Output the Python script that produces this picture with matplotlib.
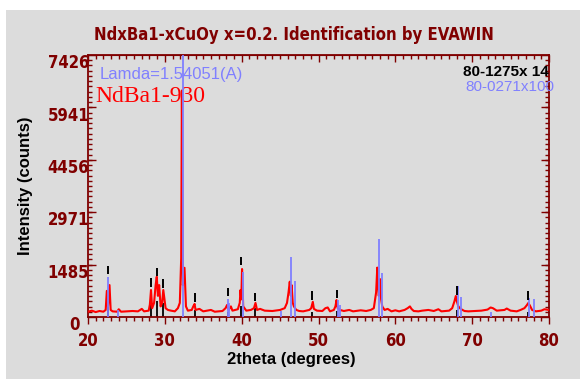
import numpy as np
import matplotlib
matplotlib.use('Agg')
import matplotlib.pyplot as plt
from matplotlib import font_manager
from matplotlib.ticker import MultipleLocator, FixedLocator
from matplotlib.transforms import ScaledTranslation
from matplotlib.patches import Rectangle

# measured pattern (red)
tt = [20.0, 20.5, 21.0, 21.5, 22.0, 22.3, 22.45, 22.6, 22.8, 22.95, 23.2, 23.8, 24.0, 24.3, 25.0, 25.8,
      26.5, 27.0, 27.3, 27.9, 28.05, 28.2, 28.35, 28.6, 28.8, 28.95, 29.1, 29.26, 29.45, 29.65, 29.8,
      29.95, 30.1, 30.4, 30.8, 31.3, 31.7, 31.95, 32.13, 32.22, 32.35, 32.56, 32.75, 33.0, 33.5, 33.7,
      33.87, 34.0, 34.5, 35.0, 36.0, 36.5, 37.5, 37.9, 38.1, 38.3, 38.6, 38.8, 39.5, 39.75, 39.85,
      39.95, 40.05, 40.2, 40.6, 41.2, 41.6, 41.8, 42.0, 42.4, 43.0, 44.0, 45.0, 45.6, 45.9, 46.1,
      46.26, 46.4, 46.5, 46.65, 46.8, 47.1, 47.5, 48.0, 48.8, 49.05, 49.26, 49.4, 49.8, 50.5, 50.9,
      51.2, 51.5, 52.0, 52.2, 52.35, 52.5, 52.8, 53.3, 54.0, 54.5, 55.5, 56.2, 56.8, 57.2, 57.5,
      57.65, 57.75, 57.85, 58.0, 58.15, 58.3, 58.6, 59.0, 59.5, 60.0, 60.5, 61.2, 61.6, 61.9, 62.1,
      62.4, 63.0, 63.5, 64.3, 65.0, 65.6, 66.0, 67.0, 67.4, 67.7, 67.87, 68.0, 68.2, 68.5, 69.0,
      69.5, 70.5, 71.2, 72.0, 72.4, 72.7, 73.2, 74.2, 74.5, 75.0, 75.8, 76.3, 76.8, 77.1, 77.3,
      77.5, 77.8, 78.3, 79.0, 79.4, 80.0]
counts = [150, 180, 140, 170, 150, 200, 740, 300, 905, 200, 160, 150, 220, 150, 160, 170,
          160, 230, 160, 180, 350, 765, 250, 400, 900, 1140, 600, 905, 300, 400, 765,
          500, 250, 200, 180, 160, 250, 400, 1670, 6420, 900, 1395, 300, 180, 200, 300,
          370, 200, 230, 160, 200, 150, 170, 250, 340, 200, 300, 180, 220, 400, 765,
          500, 1360, 300, 180, 200, 250, 400, 200, 230, 180, 170, 200, 250, 400, 700,
          1000, 600, 905, 400, 300, 200, 170, 160, 200, 250, 430, 230, 180, 170, 250,
          270, 160, 200, 300, 480, 250, 200, 170, 200, 160, 190, 170, 200, 250, 700,
          1400, 900, 600, 1075, 500, 300, 200, 230, 160, 190, 160, 200, 250, 300, 230,
          170, 160, 180, 200, 170, 220, 160, 180, 250, 450, 595, 450, 300, 230, 170,
          160, 170, 180, 210, 270, 250, 180, 200, 240, 180, 160, 200, 250, 330, 395,
          330, 200, 160, 180, 220, 200]

# 80-0271 x100 (blue sticks)
blue_pos = [22.6, 23.9, 32.3, 38.2, 38.4, 40.13, 45.1, 46.48, 47.0, 52.55, 52.85,
            57.9, 58.2, 68.1, 68.5, 72.5, 77.4, 78.0]
blue_int = [1140, 200, 7600, 510, 400, 1280, 180, 1710, 1020, 480, 350,
            2210, 1245, 890, 565, 150, 530, 510]

# 80-1275 x14 (black sticks and markers)
black_pos = [22.6, 28.2, 28.95, 29.8, 33.87, 38.2, 39.9, 41.8, 49.2, 52.35, 68.0, 77.3]
black_int = [300, 480, 450, 400, 200, 150, 300, 250, 150, 180, 200, 150]
black_top = [1452, 1095, 1395, 1067, 670, 830, 1707, 690, 736, 765, 877, 736]

yticks = [0, 1485, 2971, 4456, 5941, 7426]

dred = '#800000'
blue = '#8080ff'

# condensed bold face if one is installed
cond = font_manager.FontProperties(family='DejaVu Sans', stretch='condensed', weight='bold')
cond_path = font_manager.findfont(cond, fallback_to_default=True)
if 'Condensed' in cond_path:
    nfont = font_manager.FontProperties(fname=cond_path)
    nscale = 1.0
else:
    nfont = font_manager.FontProperties(family='Liberation Sans', weight='bold')
    nscale = 0.86

fig = plt.figure(figsize=(5.8, 3.79), dpi=100)
fig.patch.set_facecolor('white')
fig.patches.append(Rectangle((6 / 580, 0), 1, 1 - 10 / 379, transform=fig.transFigure,
                             facecolor='#dcdcdc', edgecolor='none', zorder=-10))

ax = fig.add_axes([88 / 580, 1 - 317 / 379, (549 - 88) / 580, (317 - 55) / 379])
ax.set_facecolor('#dcdcdc')

ax.vlines(black_pos, 0, black_int, color='black', linewidth=1.3, zorder=2)
ax.plot(tt, counts, color='#ff0000', linewidth=1.5, zorder=3)
ax.vlines(blue_pos, 0, blue_int, color=blue, linewidth=1.3, zorder=4)
ax.vlines(black_pos, np.array(black_top) - 240, black_top, color='black', linewidth=1.4, zorder=5)

ax.set_xlim(20, 80)
ax.set_ylim(0, 7426)

for s in ax.spines.values():
    s.set_color(dred)
    s.set_linewidth(1.3)

ax.xaxis.set_major_locator(MultipleLocator(10))
ax.xaxis.set_minor_locator(MultipleLocator(1))
ax.tick_params(axis='x', which='both', direction='out', colors=dred, width=1)
ax.tick_params(axis='x', which='major', length=5, pad=6)
ax.tick_params(axis='x', which='minor', length=3)

ax.yaxis.set_major_locator(FixedLocator(yticks))
ax.yaxis.set_minor_locator(MultipleLocator(148.52))
ax.tick_params(axis='y', which='both', direction='in', colors=dred, width=1, right=True, pad=-1)
ax.tick_params(axis='y', which='major', length=6)
ax.tick_params(axis='y', which='minor', length=3)

top = ax.secondary_xaxis('top')
top.xaxis.set_major_locator(MultipleLocator(10))
top.xaxis.set_minor_locator(MultipleLocator(1))
top.tick_params(which='both', direction='in', colors=dred, width=1, labeltop=False)
top.tick_params(which='major', length=5)
top.tick_params(which='minor', length=3)
top.spines['top'].set_color(dred)

for lab in ax.get_xticklabels() + ax.get_yticklabels():
    lab.set_fontproperties(nfont)
    lab.set_fontsize(12 * nscale)
for i, lab in enumerate(ax.get_yticklabels()):
    dx = -7 / 72 if i == 0 else 0
    lab.set_transform(lab.get_transform() + ScaledTranslation(dx, -4.5 / 72, fig.dpi_scale_trans))

ax.set_xlabel('2theta (degrees)', fontsize=12, fontweight='bold', family='Liberation Sans')
ax.set_ylabel('Intensity (counts)', fontsize=12, fontweight='bold', family='Liberation Sans')
ax.xaxis.set_label_coords(0.44, -0.135)
ax.yaxis.set_label_coords(-0.12, 0.5)

tf = nfont.copy()
tf.set_size(12 * nscale)
fig.text(294 / 580, 1 - 35 / 379, 'NdxBa1-xCuOy x=0.2. Identification by EVAWIN', color=dred,
         fontproperties=tf, ha='center', va='center')

ax.text(0.025, 0.955, 'Lamda=1.54051(A)', transform=ax.transAxes, color=blue, fontsize=12,
        family='Liberation Sans', ha='left', va='top')
ax.text(0.015, 0.84, 'NdBa1-930', transform=ax.transAxes, color='#ff0000', fontsize=17,
        family='Liberation Serif', ha='left', va='center')
ax.text(1.0, 0.96, '80-1275x 14', transform=ax.transAxes, color='black', fontsize=11,
        family='Liberation Sans', fontweight='bold', ha='right', va='top')
ax.text(1.012, 0.905, '80-0271x100', transform=ax.transAxes, color=blue, fontsize=11,
        family='Liberation Sans', ha='right', va='top')

fig.savefig('out.png', dpi=100, facecolor=fig.get_facecolor())
